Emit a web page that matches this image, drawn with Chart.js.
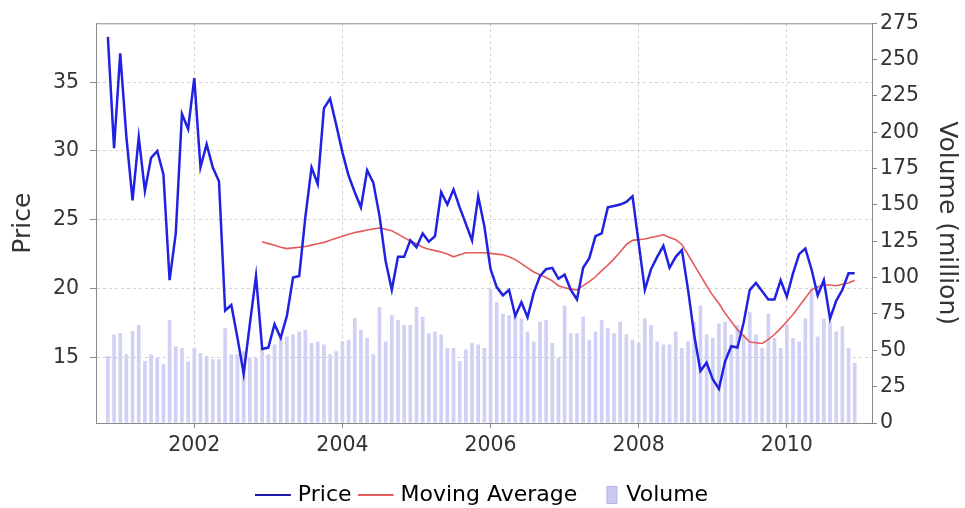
<!DOCTYPE html>
<html>
<head>
<meta charset="utf-8">
<script src="https://cdn.jsdelivr.net/npm/chart.js@4.4.1/dist/chart.umd.min.js"></script>
<style>
  html, body { margin: 0; padding: 0; background: #fff; }
</style>
</head>
<body>
<canvas id="myChart" width="965" height="508"></canvas>
<script>
// monthly series, first point Nov 2000
const firstYear = 2000
const firstMonth = 11

const price = [
    38.3, 30.2, 37.1, 31.0, 26.4, 31.0, 27.1, 29.5, 30.0, 28.3,
    20.6, 24.0, 32.7, 31.6, 35.3, 28.8, 30.5, 28.8, 27.8, 18.4,
    18.8, 16.4, 13.8, 17.4, 20.9, 15.6, 15.7, 17.4, 16.4, 18.0,
    20.8, 20.9, 25.2, 28.8, 27.6, 33.1, 33.8, 31.9, 29.9, 28.2,
    27.0, 25.9, 28.6, 27.7, 25.3, 22.0, 19.9, 22.3, 22.3, 23.5,
    23.0, 24.0, 23.4, 23.8, 27.0, 26.1, 27.2, 25.9, 24.7, 23.5,
    26.7, 24.5, 21.4, 20.1, 19.5, 19.9, 18.0, 19.0, 17.9, 19.7,
    20.9, 21.4, 21.5, 20.7, 21.0, 19.9, 19.2, 21.5, 22.2, 23.8,
    24.0, 25.9, 26.0, 26.1, 26.3, 26.7, 23.3, 19.9, 21.4, 22.3,
    23.1, 21.5, 22.3, 22.8, 19.9, 16.6, 14.0, 14.6, 13.4, 12.7,
    14.7, 15.8, 15.7, 17.5, 19.9, 20.4, 19.8, 19.2, 19.2, 20.6,
    19.4, 21.1, 22.5, 22.9, 21.4, 19.5, 20.6, 17.8, 19.1, 19.9,
    21.1, 21.1
]

const movingAverage = [
    null, null, null, null, null, null, null, null, null, null,
    null, null, null, null, null, null, null, null, null, null,
    null, null, null, null, null, 23.4, 23.26, 23.14, 23.0, 22.9,
    22.95, 23.0, 23.05, 23.15, 23.25, 23.35, 23.5, 23.65, 23.8, 23.95,
    24.07, 24.15, 24.25, 24.33, 24.4, 24.3, 24.2, 23.95, 23.7, 23.45,
    23.25, 23.0, 22.85, 22.75, 22.65, 22.5, 22.3, 22.45, 22.6, 22.6,
    22.6, 22.6, 22.55, 22.5, 22.45, 22.3, 22.1, 21.8, 21.5, 21.2,
    21.0, 20.8, 20.55, 20.2, 20.05, 19.95, 19.9, 20.2, 20.5, 20.85,
    21.3, 21.7, 22.15, 22.65, 23.2, 23.5, 23.55, 23.6, 23.7, 23.8,
    23.9, 23.7, 23.55, 23.2, 22.45, 21.7, 20.95, 20.2, 19.5, 18.9,
    18.2, 17.6, 17.0, 16.55, 16.1, 16.05, 16.0, 16.3, 16.65, 17.1,
    17.6, 18.1, 18.7, 19.3, 19.9, 20.1, 20.25, 20.25, 20.2, 20.3,
    20.4, 20.6
]

const volume = [
    45.8, 60.6, 61.7, 47, 63, 67.2, 42.5, 47, 44.7, 40.2,
    70.6, 52.6, 51.4, 42, 51.4, 48, 45.8, 43.6, 43.6, 64.9,
    47, 47, 49.2, 44.7, 44.7, 51.4, 47, 53.7, 58.2, 59.3,
    60.6, 62.7, 63.8, 54.8, 55.9, 53.7, 47, 49.2, 55.9, 57,
    72, 63.8, 58.2, 47, 79.5, 55.9, 73.9, 70.6, 67.2, 67.2,
    79.5, 72.8, 61.6, 62.7, 60.6, 51.4, 51.4, 42.5, 50.3, 54.8,
    53.7, 51.4, 91.9, 82.9, 75, 73.9, 73.9, 71.7, 62.7, 55.9,
    69.4, 70.6, 54.8, 44.7, 80.7, 61.6, 61.6, 72.8, 57, 62.7,
    70.6, 65, 61.6, 69.4, 60.6, 57, 55, 71.7, 67.2, 55.9,
    53.7, 53.7, 62.7, 51.4, 55.9, 69.4, 80.7, 60.6, 58.2, 68.3,
    69.4, 60.6, 67.2, 60.6, 76.2, 60.6, 51.4, 75, 58.2, 51.4,
    67.2, 58.2, 55.9, 71.7, 93, 59.3, 71.7, 69.4, 62.7, 66.1,
    51.4, 41.3
]

const yearTicks = [2002, 2004, 2006, 2008, 2010]
const priceTicks = [15, 20, 25, 30, 35]
const volumeTicks = [0, 25, 50, 75, 100, 125, 150, 175, 200, 225, 250, 275]

// decimal year for each month
const months = price.map((_, i) => firstYear + (firstMonth - 1 + i) / 12)

const FONT = 'DejaVu Sans'
const axisGrey = '#8a8a8a'
const gridGrey = '#d2d2d2'

// legend icons: canvas 42 wide, centred on a 22 px legend box
const swatch = (draw) => {
    const c = document.createElement('canvas')
    c.width = 42
    c.height = 20
    draw(c.getContext('2d'))
    return c
}

const legendIcons = [
    swatch((g) => { g.strokeStyle = '#1c1ca8'; g.lineWidth = 2; g.beginPath(); g.moveTo(0, 10); g.lineTo(36, 10); g.stroke() }),
    swatch((g) => { g.strokeStyle = '#e06060'; g.lineWidth = 2; g.beginPath(); g.moveTo(0, 10); g.lineTo(36, 10); g.stroke() }),
    swatch((g) => { g.fillStyle = '#c9c9f2'; g.fillRect(23, 1, 11, 18); g.strokeStyle = '#b4b4ea'; g.strokeRect(23.5, 1.5, 10, 17) }),
]

const frameTop = {
    id: 'frameTop',
    afterDraw(chart) {
        const { ctx, chartArea } = chart
        ctx.save()
        ctx.strokeStyle = axisGrey
        ctx.lineWidth = 1
        ctx.beginPath()
        ctx.moveTo(chartArea.left, chartArea.top + 0.5)
        ctx.lineTo(chartArea.right, chartArea.top + 0.5)
        ctx.stroke()
        ctx.restore()
    }
}

const data = {
    datasets: [
        {
            type: 'line',
            label: 'Price',
            data: price.map((v, i) => ({ x: months[i], y: v })),
            borderColor: '#2121e2',
            borderWidth: 2.5,
            pointRadius: 0,
            tension: 0,
            yAxisID: 'y',
            order: 1,
        },
        {
            type: 'line',
            label: 'Moving Average',
            data: movingAverage.map((v, i) => ({ x: months[i], y: v })),
            borderColor: '#e45a5a',
            borderWidth: 1.6,
            pointRadius: 0,
            tension: 0,
            yAxisID: 'y',
            order: 2,
        },
        {
            type: 'bar',
            label: 'Volume',
            data: volume.map((v, i) => ({ x: months[i], y: v })),
            backgroundColor: '#d1d1f5',
            borderWidth: 0,
            barThickness: 3,
            yAxisID: 'y1',
            order: 3,
        },
    ]
}

const config = {
    type: 'bar',
    data: data,
    plugins: [frameTop],
    options: {
        responsive: false,
        animation: false,
        devicePixelRatio: 1,
        layout: { padding: { top: 15, left: 8, right: 0, bottom: 0 } },
        plugins: {
            tooltip: { enabled: false },
            legend: {
                position: 'bottom',
                maxHeight: 40,
                labels: {
                    usePointStyle: true,
                    pointStyleWidth: 22,
                    padding: 16,
                    color: '#333',
                    font: { family: FONT, size: 22 },
                    generateLabels: (chart) => chart.data.datasets.map((ds, i) => ({
                        text: ds.label,
                        pointStyle: legendIcons[i],
                        fillStyle: 'transparent',
                        strokeStyle: 'transparent',
                        lineWidth: 0,
                        hidden: false,
                        datasetIndex: i,
                    })),
                },
            },
        },
        scales: {
            x: {
                type: 'linear',
                position: 'bottom',
                offset: false,
                min: 2000.673,
                max: 2011.15,
                afterBuildTicks: (scale) => { scale.ticks = yearTicks.map((v) => ({ value: v })) },
                afterFit: (scale) => { scale.height = 45 },
                ticks: {
                    autoSkip: false,
                    maxRotation: 0,
                    padding: 5,
                    color: '#333',
                    font: { family: FONT, size: 20.5 },
                    callback: (v) => String(v),
                },
                grid: {
                    offset: false,
                    color: gridGrey,
                    tickColor: axisGrey,
                    tickLength: 5,
                },
                border: { color: axisGrey, dash: [3, 3] },
            },
            y: {
                type: 'linear',
                position: 'left',
                min: 10.214,
                max: 39.286,
                afterBuildTicks: (scale) => { scale.ticks = priceTicks.map((v) => ({ value: v })) },
                afterFit: (scale) => { scale.width = 88 },
                title: {
                    display: true,
                    text: 'Price',
                    color: '#333',
                    font: { family: FONT, size: 25 },
                    padding: { top: 0, bottom: 4 },
                },
                ticks: {
                    padding: 11,
                    color: '#333',
                    font: { family: FONT, size: 20.5 },
                    callback: (v) => String(v),
                },
                grid: {
                    color: gridGrey,
                    tickColor: axisGrey,
                    tickLength: 6,
                },
                border: { color: axisGrey, dash: [3, 3] },
            },
            y1: {
                type: 'linear',
                position: 'right',
                min: 0,
                max: 275,
                afterBuildTicks: (scale) => { scale.ticks = volumeTicks.map((v) => ({ value: v })) },
                afterFit: (scale) => { scale.width = 93 },
                title: {
                    display: true,
                    text: 'Volume (million)',
                    color: '#333',
                    font: { family: FONT, size: 25 },
                    padding: { top: 4, bottom: 4 },
                },
                ticks: {
                    padding: 3,
                    color: '#333',
                    font: { family: FONT, size: 20.5 },
                    callback: (v) => String(v),
                },
                grid: {
                    drawOnChartArea: false,
                    tickColor: axisGrey,
                    tickLength: 5,
                },
                border: { color: axisGrey },
            },
        },
    },
}

const myChart = new Chart(
    document.getElementById('myChart'),
    config
)
</script>
</body>
</html>
